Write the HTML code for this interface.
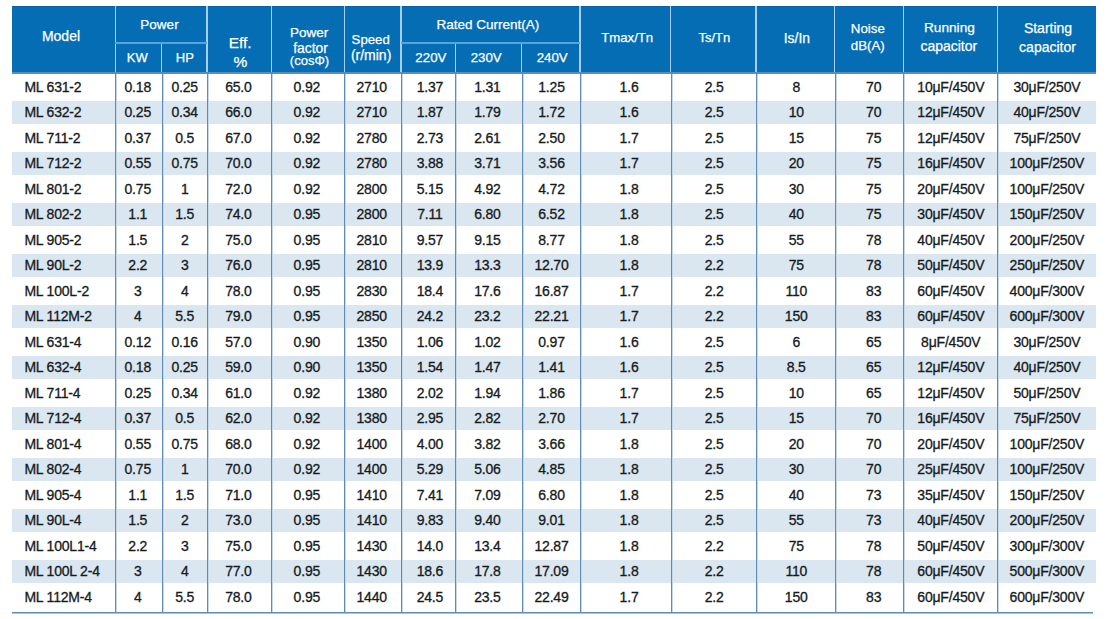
<!DOCTYPE html>
<html><head><meta charset="utf-8"><style>
html,body{margin:0;padding:0;background:#fff;}
body{width:1108px;height:619px;position:relative;overflow:hidden;font-family:"Liberation Sans",sans-serif;}
body>div{position:absolute;}
.h{color:#fff;line-height:20px;white-space:nowrap;-webkit-text-stroke:0.25px #fff;}
.d{color:#151a20;line-height:20px;white-space:nowrap;-webkit-text-stroke:0.3px #151a20;letter-spacing:-0.2px;}
</style></head><body>
<div style="left:12px;top:6px;width:1084px;height:66px;background:#046db4"></div>
<div style="left:12px;top:6px;width:1084px;height:1px;background:#0a60a3"></div>
<div style="left:12px;top:101.29px;width:1084px;height:22.6px;background:#dae6f0"></div>
<div style="left:12px;top:152.27px;width:1084px;height:22.6px;background:#dae6f0"></div>
<div style="left:12px;top:203.25px;width:1084px;height:22.6px;background:#dae6f0"></div>
<div style="left:12px;top:254.23px;width:1084px;height:22.6px;background:#dae6f0"></div>
<div style="left:12px;top:305.21px;width:1084px;height:22.6px;background:#dae6f0"></div>
<div style="left:12px;top:356.19px;width:1084px;height:22.6px;background:#dae6f0"></div>
<div style="left:12px;top:407.17px;width:1084px;height:22.6px;background:#dae6f0"></div>
<div style="left:12px;top:458.15px;width:1084px;height:22.6px;background:#dae6f0"></div>
<div style="left:12px;top:509.13px;width:1084px;height:22.6px;background:#dae6f0"></div>
<div style="left:12px;top:560.11px;width:1084px;height:22.6px;background:#dae6f0"></div>
<div style="left:114.55px;top:6px;width:1.5px;height:66px;background:#a6d0f2"></div>
<div style="left:115px;top:74px;width:1px;height:538.5px;background:#5f8cb6"></div>
<div style="left:116px;top:74px;width:1px;height:538.5px;background:#c5d8e8"></div>
<div style="left:160.75px;top:43.1px;width:1.5px;height:28.9px;background:#a6d0f2"></div>
<div style="left:162px;top:74px;width:1px;height:538.5px;background:#5f8cb6"></div>
<div style="left:163px;top:74px;width:1px;height:538.5px;background:#c5d8e8"></div>
<div style="left:206.15px;top:6px;width:1.5px;height:66px;background:#a6d0f2"></div>
<div style="left:207px;top:74px;width:1px;height:538.5px;background:#5f8cb6"></div>
<div style="left:208px;top:74px;width:1px;height:538.5px;background:#c5d8e8"></div>
<div style="left:270.55px;top:6px;width:1.5px;height:66px;background:#a6d0f2"></div>
<div style="left:271px;top:74px;width:1px;height:538.5px;background:#5f8cb6"></div>
<div style="left:272px;top:74px;width:1px;height:538.5px;background:#c5d8e8"></div>
<div style="left:343.85px;top:6px;width:1.5px;height:66px;background:#a6d0f2"></div>
<div style="left:344px;top:74px;width:1px;height:538.5px;background:#5f8cb6"></div>
<div style="left:345px;top:74px;width:1px;height:538.5px;background:#c5d8e8"></div>
<div style="left:400.25px;top:6px;width:1.5px;height:66px;background:#a6d0f2"></div>
<div style="left:401px;top:74px;width:1px;height:538.5px;background:#5f8cb6"></div>
<div style="left:402px;top:74px;width:1px;height:538.5px;background:#c5d8e8"></div>
<div style="left:454.85px;top:43.1px;width:1.5px;height:28.9px;background:#a6d0f2"></div>
<div style="left:455px;top:74px;width:1px;height:538.5px;background:#5f8cb6"></div>
<div style="left:456px;top:74px;width:1px;height:538.5px;background:#c5d8e8"></div>
<div style="left:520.95px;top:43.1px;width:1.5px;height:28.9px;background:#a6d0f2"></div>
<div style="left:522px;top:74px;width:1px;height:538.5px;background:#5f8cb6"></div>
<div style="left:523px;top:74px;width:1px;height:538.5px;background:#c5d8e8"></div>
<div style="left:579.25px;top:6px;width:1.5px;height:66px;background:#a6d0f2"></div>
<div style="left:580px;top:74px;width:1px;height:538.5px;background:#5f8cb6"></div>
<div style="left:581px;top:74px;width:1px;height:538.5px;background:#c5d8e8"></div>
<div style="left:669.95px;top:6px;width:1.5px;height:66px;background:#a6d0f2"></div>
<div style="left:671px;top:74px;width:1px;height:538.5px;background:#5f8cb6"></div>
<div style="left:672px;top:74px;width:1px;height:538.5px;background:#c5d8e8"></div>
<div style="left:755.45px;top:6px;width:1.5px;height:66px;background:#a6d0f2"></div>
<div style="left:756px;top:74px;width:1px;height:538.5px;background:#5f8cb6"></div>
<div style="left:757px;top:74px;width:1px;height:538.5px;background:#c5d8e8"></div>
<div style="left:833.65px;top:6px;width:1.5px;height:66px;background:#a6d0f2"></div>
<div style="left:835px;top:74px;width:1px;height:538.5px;background:#5f8cb6"></div>
<div style="left:836px;top:74px;width:1px;height:538.5px;background:#c5d8e8"></div>
<div style="left:902.75px;top:6px;width:1.5px;height:66px;background:#a6d0f2"></div>
<div style="left:903px;top:74px;width:1px;height:538.5px;background:#5f8cb6"></div>
<div style="left:904px;top:74px;width:1px;height:538.5px;background:#c5d8e8"></div>
<div style="left:996.55px;top:6px;width:1.5px;height:66px;background:#a6d0f2"></div>
<div style="left:997px;top:74px;width:1px;height:538.5px;background:#5f8cb6"></div>
<div style="left:998px;top:74px;width:1px;height:538.5px;background:#c5d8e8"></div>
<div style="left:115.3px;top:42.1px;width:91.60000000000001px;height:2px;background:#5aa3de"></div>
<div style="left:401px;top:42.1px;width:179px;height:2px;background:#5aa3de"></div>
<div style="left:12px;top:72px;width:1084px;height:2.4px;background:#5a8dba"></div>
<div style="left:12px;top:611.5px;width:1081px;height:1px;background:#5f8cb6"></div>
<div style="left:12px;top:612.5px;width:1081px;height:1px;background:#a9c3da"></div>
<div class="h" style="left:-39.00px;width:200px;text-align:center;top:26.45px;font-size:14px">Model</div>
<div class="h" style="left:59.50px;width:200px;text-align:center;top:15.42px;font-size:13.5px">Power</div>
<div class="h" style="left:37.30px;width:200px;text-align:center;top:48.30px;font-size:13px">KW</div>
<div class="h" style="left:84.80px;width:200px;text-align:center;top:48.30px;font-size:13px">HP</div>
<div class="h" style="left:140.20px;width:200px;text-align:center;top:32.83px;font-size:15.5px">Eff.</div>
<div class="h" style="left:140.40px;width:200px;text-align:center;top:51.83px;font-size:15.5px">%</div>
<div class="h" style="left:209.20px;width:200px;text-align:center;top:23.42px;font-size:13.5px">Power</div>
<div class="h" style="left:210.50px;width:200px;text-align:center;top:37.58px;font-size:13.9px">factor</div>
<div class="h" style="left:209.50px;width:200px;text-align:center;top:51.30px;font-size:13px">(cosΦ)</div>
<div class="h" style="left:270.70px;width:200px;text-align:center;top:29.63px;font-size:13.2px">Speed</div>
<div class="h" style="left:271.10px;width:200px;text-align:center;top:44.75px;font-size:14px">(r/min)</div>
<div class="h" style="left:387.90px;width:200px;text-align:center;top:14.82px;font-size:13.5px">Rated Current(A)</div>
<div class="h" style="left:330.90px;width:200px;text-align:center;top:47.99px;font-size:13.3px">220V</div>
<div class="h" style="left:386.20px;width:200px;text-align:center;top:47.99px;font-size:13.3px">230V</div>
<div class="h" style="left:452.20px;width:200px;text-align:center;top:47.99px;font-size:13.3px">240V</div>
<div class="h" style="left:527.20px;width:200px;text-align:center;top:27.83px;font-size:13.2px">Tmax/Tn</div>
<div class="h" style="left:614.40px;width:200px;text-align:center;top:27.90px;font-size:13px">Ts/Tn</div>
<div class="h" style="left:696.90px;width:200px;text-align:center;top:27.58px;font-size:13.9px">Is/In</div>
<div class="h" style="left:767.80px;width:200px;text-align:center;top:18.69px;font-size:13.3px">Noise</div>
<div class="h" style="left:767.80px;width:200px;text-align:center;top:36.49px;font-size:13.3px">dB(A)</div>
<div class="h" style="left:849.40px;width:200px;text-align:center;top:17.55px;font-size:13.7px">Running</div>
<div class="h" style="left:848.80px;width:200px;text-align:center;top:35.75px;font-size:14px">capacitor</div>
<div class="h" style="left:948.00px;width:200px;text-align:center;top:18.45px;font-size:14px">Starting</div>
<div class="h" style="left:947.50px;width:200px;text-align:center;top:36.75px;font-size:14px">capacitor</div>
<div class="d" style="left:24.40px;top:76.95px;font-size:14px">ML 631-2</div>
<div class="d" style="left:37.75px;width:200px;text-align:center;top:76.95px;font-size:14px">0.18</div>
<div class="d" style="left:84.70px;width:200px;text-align:center;top:76.95px;font-size:14px">0.25</div>
<div class="d" style="left:138.40px;width:200px;text-align:center;top:76.95px;font-size:14px">65.0</div>
<div class="d" style="left:206.85px;width:200px;text-align:center;top:76.95px;font-size:14px">0.92</div>
<div class="d" style="left:271.70px;width:200px;text-align:center;top:76.95px;font-size:14px">2710</div>
<div class="d" style="left:329.90px;width:200px;text-align:center;top:76.95px;font-size:14px">1.37</div>
<div class="d" style="left:387.40px;width:200px;text-align:center;top:76.95px;font-size:14px">1.31</div>
<div class="d" style="left:451.50px;width:200px;text-align:center;top:76.95px;font-size:14px">1.25</div>
<div class="d" style="left:529.05px;width:200px;text-align:center;top:76.95px;font-size:14px">1.6</div>
<div class="d" style="left:614.15px;width:200px;text-align:center;top:76.95px;font-size:14px">2.5</div>
<div class="d" style="left:696.25px;width:200px;text-align:center;top:76.95px;font-size:14px">8</div>
<div class="d" style="left:773.65px;width:200px;text-align:center;top:76.95px;font-size:14px">70</div>
<div class="d" style="left:850.80px;width:200px;text-align:center;top:76.95px;font-size:14px">10μF/450V</div>
<div class="d" style="left:946.90px;width:200px;text-align:center;top:76.95px;font-size:14px">30μF/250V</div>
<div class="d" style="left:24.40px;top:102.44px;font-size:14px">ML 632-2</div>
<div class="d" style="left:37.75px;width:200px;text-align:center;top:102.44px;font-size:14px">0.25</div>
<div class="d" style="left:84.70px;width:200px;text-align:center;top:102.44px;font-size:14px">0.34</div>
<div class="d" style="left:138.40px;width:200px;text-align:center;top:102.44px;font-size:14px">66.0</div>
<div class="d" style="left:206.85px;width:200px;text-align:center;top:102.44px;font-size:14px">0.92</div>
<div class="d" style="left:271.70px;width:200px;text-align:center;top:102.44px;font-size:14px">2710</div>
<div class="d" style="left:329.90px;width:200px;text-align:center;top:102.44px;font-size:14px">1.87</div>
<div class="d" style="left:387.40px;width:200px;text-align:center;top:102.44px;font-size:14px">1.79</div>
<div class="d" style="left:451.50px;width:200px;text-align:center;top:102.44px;font-size:14px">1.72</div>
<div class="d" style="left:529.05px;width:200px;text-align:center;top:102.44px;font-size:14px">1.6</div>
<div class="d" style="left:614.15px;width:200px;text-align:center;top:102.44px;font-size:14px">2.5</div>
<div class="d" style="left:696.25px;width:200px;text-align:center;top:102.44px;font-size:14px">10</div>
<div class="d" style="left:773.65px;width:200px;text-align:center;top:102.44px;font-size:14px">70</div>
<div class="d" style="left:850.80px;width:200px;text-align:center;top:102.44px;font-size:14px">12μF/450V</div>
<div class="d" style="left:946.90px;width:200px;text-align:center;top:102.44px;font-size:14px">40μF/250V</div>
<div class="d" style="left:24.40px;top:127.93px;font-size:14px">ML 711-2</div>
<div class="d" style="left:37.75px;width:200px;text-align:center;top:127.93px;font-size:14px">0.37</div>
<div class="d" style="left:84.70px;width:200px;text-align:center;top:127.93px;font-size:14px">0.5</div>
<div class="d" style="left:138.40px;width:200px;text-align:center;top:127.93px;font-size:14px">67.0</div>
<div class="d" style="left:206.85px;width:200px;text-align:center;top:127.93px;font-size:14px">0.92</div>
<div class="d" style="left:271.70px;width:200px;text-align:center;top:127.93px;font-size:14px">2780</div>
<div class="d" style="left:329.90px;width:200px;text-align:center;top:127.93px;font-size:14px">2.73</div>
<div class="d" style="left:387.40px;width:200px;text-align:center;top:127.93px;font-size:14px">2.61</div>
<div class="d" style="left:451.50px;width:200px;text-align:center;top:127.93px;font-size:14px">2.50</div>
<div class="d" style="left:529.05px;width:200px;text-align:center;top:127.93px;font-size:14px">1.7</div>
<div class="d" style="left:614.15px;width:200px;text-align:center;top:127.93px;font-size:14px">2.5</div>
<div class="d" style="left:696.25px;width:200px;text-align:center;top:127.93px;font-size:14px">15</div>
<div class="d" style="left:773.65px;width:200px;text-align:center;top:127.93px;font-size:14px">75</div>
<div class="d" style="left:850.80px;width:200px;text-align:center;top:127.93px;font-size:14px">12μF/450V</div>
<div class="d" style="left:946.90px;width:200px;text-align:center;top:127.93px;font-size:14px">75μF/250V</div>
<div class="d" style="left:24.40px;top:153.42px;font-size:14px">ML 712-2</div>
<div class="d" style="left:37.75px;width:200px;text-align:center;top:153.42px;font-size:14px">0.55</div>
<div class="d" style="left:84.70px;width:200px;text-align:center;top:153.42px;font-size:14px">0.75</div>
<div class="d" style="left:138.40px;width:200px;text-align:center;top:153.42px;font-size:14px">70.0</div>
<div class="d" style="left:206.85px;width:200px;text-align:center;top:153.42px;font-size:14px">0.92</div>
<div class="d" style="left:271.70px;width:200px;text-align:center;top:153.42px;font-size:14px">2780</div>
<div class="d" style="left:329.90px;width:200px;text-align:center;top:153.42px;font-size:14px">3.88</div>
<div class="d" style="left:387.40px;width:200px;text-align:center;top:153.42px;font-size:14px">3.71</div>
<div class="d" style="left:451.50px;width:200px;text-align:center;top:153.42px;font-size:14px">3.56</div>
<div class="d" style="left:529.05px;width:200px;text-align:center;top:153.42px;font-size:14px">1.7</div>
<div class="d" style="left:614.15px;width:200px;text-align:center;top:153.42px;font-size:14px">2.5</div>
<div class="d" style="left:696.25px;width:200px;text-align:center;top:153.42px;font-size:14px">20</div>
<div class="d" style="left:773.65px;width:200px;text-align:center;top:153.42px;font-size:14px">75</div>
<div class="d" style="left:850.80px;width:200px;text-align:center;top:153.42px;font-size:14px">16μF/450V</div>
<div class="d" style="left:946.90px;width:200px;text-align:center;top:153.42px;font-size:14px">100μF/250V</div>
<div class="d" style="left:24.40px;top:178.91px;font-size:14px">ML 801-2</div>
<div class="d" style="left:37.75px;width:200px;text-align:center;top:178.91px;font-size:14px">0.75</div>
<div class="d" style="left:84.70px;width:200px;text-align:center;top:178.91px;font-size:14px">1</div>
<div class="d" style="left:138.40px;width:200px;text-align:center;top:178.91px;font-size:14px">72.0</div>
<div class="d" style="left:206.85px;width:200px;text-align:center;top:178.91px;font-size:14px">0.92</div>
<div class="d" style="left:271.70px;width:200px;text-align:center;top:178.91px;font-size:14px">2800</div>
<div class="d" style="left:329.90px;width:200px;text-align:center;top:178.91px;font-size:14px">5.15</div>
<div class="d" style="left:387.40px;width:200px;text-align:center;top:178.91px;font-size:14px">4.92</div>
<div class="d" style="left:451.50px;width:200px;text-align:center;top:178.91px;font-size:14px">4.72</div>
<div class="d" style="left:529.05px;width:200px;text-align:center;top:178.91px;font-size:14px">1.8</div>
<div class="d" style="left:614.15px;width:200px;text-align:center;top:178.91px;font-size:14px">2.5</div>
<div class="d" style="left:696.25px;width:200px;text-align:center;top:178.91px;font-size:14px">30</div>
<div class="d" style="left:773.65px;width:200px;text-align:center;top:178.91px;font-size:14px">75</div>
<div class="d" style="left:850.80px;width:200px;text-align:center;top:178.91px;font-size:14px">20μF/450V</div>
<div class="d" style="left:946.90px;width:200px;text-align:center;top:178.91px;font-size:14px">100μF/250V</div>
<div class="d" style="left:24.40px;top:204.40px;font-size:14px">ML 802-2</div>
<div class="d" style="left:37.75px;width:200px;text-align:center;top:204.40px;font-size:14px">1.1</div>
<div class="d" style="left:84.70px;width:200px;text-align:center;top:204.40px;font-size:14px">1.5</div>
<div class="d" style="left:138.40px;width:200px;text-align:center;top:204.40px;font-size:14px">74.0</div>
<div class="d" style="left:206.85px;width:200px;text-align:center;top:204.40px;font-size:14px">0.95</div>
<div class="d" style="left:271.70px;width:200px;text-align:center;top:204.40px;font-size:14px">2800</div>
<div class="d" style="left:329.90px;width:200px;text-align:center;top:204.40px;font-size:14px">7.11</div>
<div class="d" style="left:387.40px;width:200px;text-align:center;top:204.40px;font-size:14px">6.80</div>
<div class="d" style="left:451.50px;width:200px;text-align:center;top:204.40px;font-size:14px">6.52</div>
<div class="d" style="left:529.05px;width:200px;text-align:center;top:204.40px;font-size:14px">1.8</div>
<div class="d" style="left:614.15px;width:200px;text-align:center;top:204.40px;font-size:14px">2.5</div>
<div class="d" style="left:696.25px;width:200px;text-align:center;top:204.40px;font-size:14px">40</div>
<div class="d" style="left:773.65px;width:200px;text-align:center;top:204.40px;font-size:14px">75</div>
<div class="d" style="left:850.80px;width:200px;text-align:center;top:204.40px;font-size:14px">30μF/450V</div>
<div class="d" style="left:946.90px;width:200px;text-align:center;top:204.40px;font-size:14px">150μF/250V</div>
<div class="d" style="left:24.40px;top:229.89px;font-size:14px">ML 905-2</div>
<div class="d" style="left:37.75px;width:200px;text-align:center;top:229.89px;font-size:14px">1.5</div>
<div class="d" style="left:84.70px;width:200px;text-align:center;top:229.89px;font-size:14px">2</div>
<div class="d" style="left:138.40px;width:200px;text-align:center;top:229.89px;font-size:14px">75.0</div>
<div class="d" style="left:206.85px;width:200px;text-align:center;top:229.89px;font-size:14px">0.95</div>
<div class="d" style="left:271.70px;width:200px;text-align:center;top:229.89px;font-size:14px">2810</div>
<div class="d" style="left:329.90px;width:200px;text-align:center;top:229.89px;font-size:14px">9.57</div>
<div class="d" style="left:387.40px;width:200px;text-align:center;top:229.89px;font-size:14px">9.15</div>
<div class="d" style="left:451.50px;width:200px;text-align:center;top:229.89px;font-size:14px">8.77</div>
<div class="d" style="left:529.05px;width:200px;text-align:center;top:229.89px;font-size:14px">1.8</div>
<div class="d" style="left:614.15px;width:200px;text-align:center;top:229.89px;font-size:14px">2.5</div>
<div class="d" style="left:696.25px;width:200px;text-align:center;top:229.89px;font-size:14px">55</div>
<div class="d" style="left:773.65px;width:200px;text-align:center;top:229.89px;font-size:14px">78</div>
<div class="d" style="left:850.80px;width:200px;text-align:center;top:229.89px;font-size:14px">40μF/450V</div>
<div class="d" style="left:946.90px;width:200px;text-align:center;top:229.89px;font-size:14px">200μF/250V</div>
<div class="d" style="left:24.40px;top:255.38px;font-size:14px">ML 90L-2</div>
<div class="d" style="left:37.75px;width:200px;text-align:center;top:255.38px;font-size:14px">2.2</div>
<div class="d" style="left:84.70px;width:200px;text-align:center;top:255.38px;font-size:14px">3</div>
<div class="d" style="left:138.40px;width:200px;text-align:center;top:255.38px;font-size:14px">76.0</div>
<div class="d" style="left:206.85px;width:200px;text-align:center;top:255.38px;font-size:14px">0.95</div>
<div class="d" style="left:271.70px;width:200px;text-align:center;top:255.38px;font-size:14px">2810</div>
<div class="d" style="left:329.90px;width:200px;text-align:center;top:255.38px;font-size:14px">13.9</div>
<div class="d" style="left:387.40px;width:200px;text-align:center;top:255.38px;font-size:14px">13.3</div>
<div class="d" style="left:451.50px;width:200px;text-align:center;top:255.38px;font-size:14px">12.70</div>
<div class="d" style="left:529.05px;width:200px;text-align:center;top:255.38px;font-size:14px">1.8</div>
<div class="d" style="left:614.15px;width:200px;text-align:center;top:255.38px;font-size:14px">2.2</div>
<div class="d" style="left:696.25px;width:200px;text-align:center;top:255.38px;font-size:14px">75</div>
<div class="d" style="left:773.65px;width:200px;text-align:center;top:255.38px;font-size:14px">78</div>
<div class="d" style="left:850.80px;width:200px;text-align:center;top:255.38px;font-size:14px">50μF/450V</div>
<div class="d" style="left:946.90px;width:200px;text-align:center;top:255.38px;font-size:14px">250μF/250V</div>
<div class="d" style="left:24.40px;top:280.87px;font-size:14px">ML 100L-2</div>
<div class="d" style="left:37.75px;width:200px;text-align:center;top:280.87px;font-size:14px">3</div>
<div class="d" style="left:84.70px;width:200px;text-align:center;top:280.87px;font-size:14px">4</div>
<div class="d" style="left:138.40px;width:200px;text-align:center;top:280.87px;font-size:14px">78.0</div>
<div class="d" style="left:206.85px;width:200px;text-align:center;top:280.87px;font-size:14px">0.95</div>
<div class="d" style="left:271.70px;width:200px;text-align:center;top:280.87px;font-size:14px">2830</div>
<div class="d" style="left:329.90px;width:200px;text-align:center;top:280.87px;font-size:14px">18.4</div>
<div class="d" style="left:387.40px;width:200px;text-align:center;top:280.87px;font-size:14px">17.6</div>
<div class="d" style="left:451.50px;width:200px;text-align:center;top:280.87px;font-size:14px">16.87</div>
<div class="d" style="left:529.05px;width:200px;text-align:center;top:280.87px;font-size:14px">1.7</div>
<div class="d" style="left:614.15px;width:200px;text-align:center;top:280.87px;font-size:14px">2.2</div>
<div class="d" style="left:696.25px;width:200px;text-align:center;top:280.87px;font-size:14px">110</div>
<div class="d" style="left:773.65px;width:200px;text-align:center;top:280.87px;font-size:14px">83</div>
<div class="d" style="left:850.80px;width:200px;text-align:center;top:280.87px;font-size:14px">60μF/450V</div>
<div class="d" style="left:946.90px;width:200px;text-align:center;top:280.87px;font-size:14px">400μF/300V</div>
<div class="d" style="left:24.40px;top:306.36px;font-size:14px">ML 112M-2</div>
<div class="d" style="left:37.75px;width:200px;text-align:center;top:306.36px;font-size:14px">4</div>
<div class="d" style="left:84.70px;width:200px;text-align:center;top:306.36px;font-size:14px">5.5</div>
<div class="d" style="left:138.40px;width:200px;text-align:center;top:306.36px;font-size:14px">79.0</div>
<div class="d" style="left:206.85px;width:200px;text-align:center;top:306.36px;font-size:14px">0.95</div>
<div class="d" style="left:271.70px;width:200px;text-align:center;top:306.36px;font-size:14px">2850</div>
<div class="d" style="left:329.90px;width:200px;text-align:center;top:306.36px;font-size:14px">24.2</div>
<div class="d" style="left:387.40px;width:200px;text-align:center;top:306.36px;font-size:14px">23.2</div>
<div class="d" style="left:451.50px;width:200px;text-align:center;top:306.36px;font-size:14px">22.21</div>
<div class="d" style="left:529.05px;width:200px;text-align:center;top:306.36px;font-size:14px">1.7</div>
<div class="d" style="left:614.15px;width:200px;text-align:center;top:306.36px;font-size:14px">2.2</div>
<div class="d" style="left:696.25px;width:200px;text-align:center;top:306.36px;font-size:14px">150</div>
<div class="d" style="left:773.65px;width:200px;text-align:center;top:306.36px;font-size:14px">83</div>
<div class="d" style="left:850.80px;width:200px;text-align:center;top:306.36px;font-size:14px">60μF/450V</div>
<div class="d" style="left:946.90px;width:200px;text-align:center;top:306.36px;font-size:14px">600μF/300V</div>
<div class="d" style="left:24.40px;top:331.85px;font-size:14px">ML 631-4</div>
<div class="d" style="left:37.75px;width:200px;text-align:center;top:331.85px;font-size:14px">0.12</div>
<div class="d" style="left:84.70px;width:200px;text-align:center;top:331.85px;font-size:14px">0.16</div>
<div class="d" style="left:138.40px;width:200px;text-align:center;top:331.85px;font-size:14px">57.0</div>
<div class="d" style="left:206.85px;width:200px;text-align:center;top:331.85px;font-size:14px">0.90</div>
<div class="d" style="left:271.70px;width:200px;text-align:center;top:331.85px;font-size:14px">1350</div>
<div class="d" style="left:329.90px;width:200px;text-align:center;top:331.85px;font-size:14px">1.06</div>
<div class="d" style="left:387.40px;width:200px;text-align:center;top:331.85px;font-size:14px">1.02</div>
<div class="d" style="left:451.50px;width:200px;text-align:center;top:331.85px;font-size:14px">0.97</div>
<div class="d" style="left:529.05px;width:200px;text-align:center;top:331.85px;font-size:14px">1.6</div>
<div class="d" style="left:614.15px;width:200px;text-align:center;top:331.85px;font-size:14px">2.5</div>
<div class="d" style="left:696.25px;width:200px;text-align:center;top:331.85px;font-size:14px">6</div>
<div class="d" style="left:773.65px;width:200px;text-align:center;top:331.85px;font-size:14px">65</div>
<div class="d" style="left:850.80px;width:200px;text-align:center;top:331.85px;font-size:14px">8μF/450V</div>
<div class="d" style="left:946.90px;width:200px;text-align:center;top:331.85px;font-size:14px">30μF/250V</div>
<div class="d" style="left:24.40px;top:357.34px;font-size:14px">ML 632-4</div>
<div class="d" style="left:37.75px;width:200px;text-align:center;top:357.34px;font-size:14px">0.18</div>
<div class="d" style="left:84.70px;width:200px;text-align:center;top:357.34px;font-size:14px">0.25</div>
<div class="d" style="left:138.40px;width:200px;text-align:center;top:357.34px;font-size:14px">59.0</div>
<div class="d" style="left:206.85px;width:200px;text-align:center;top:357.34px;font-size:14px">0.90</div>
<div class="d" style="left:271.70px;width:200px;text-align:center;top:357.34px;font-size:14px">1350</div>
<div class="d" style="left:329.90px;width:200px;text-align:center;top:357.34px;font-size:14px">1.54</div>
<div class="d" style="left:387.40px;width:200px;text-align:center;top:357.34px;font-size:14px">1.47</div>
<div class="d" style="left:451.50px;width:200px;text-align:center;top:357.34px;font-size:14px">1.41</div>
<div class="d" style="left:529.05px;width:200px;text-align:center;top:357.34px;font-size:14px">1.6</div>
<div class="d" style="left:614.15px;width:200px;text-align:center;top:357.34px;font-size:14px">2.5</div>
<div class="d" style="left:696.25px;width:200px;text-align:center;top:357.34px;font-size:14px">8.5</div>
<div class="d" style="left:773.65px;width:200px;text-align:center;top:357.34px;font-size:14px">65</div>
<div class="d" style="left:850.80px;width:200px;text-align:center;top:357.34px;font-size:14px">12μF/450V</div>
<div class="d" style="left:946.90px;width:200px;text-align:center;top:357.34px;font-size:14px">40μF/250V</div>
<div class="d" style="left:24.40px;top:382.83px;font-size:14px">ML 711-4</div>
<div class="d" style="left:37.75px;width:200px;text-align:center;top:382.83px;font-size:14px">0.25</div>
<div class="d" style="left:84.70px;width:200px;text-align:center;top:382.83px;font-size:14px">0.34</div>
<div class="d" style="left:138.40px;width:200px;text-align:center;top:382.83px;font-size:14px">61.0</div>
<div class="d" style="left:206.85px;width:200px;text-align:center;top:382.83px;font-size:14px">0.92</div>
<div class="d" style="left:271.70px;width:200px;text-align:center;top:382.83px;font-size:14px">1380</div>
<div class="d" style="left:329.90px;width:200px;text-align:center;top:382.83px;font-size:14px">2.02</div>
<div class="d" style="left:387.40px;width:200px;text-align:center;top:382.83px;font-size:14px">1.94</div>
<div class="d" style="left:451.50px;width:200px;text-align:center;top:382.83px;font-size:14px">1.86</div>
<div class="d" style="left:529.05px;width:200px;text-align:center;top:382.83px;font-size:14px">1.7</div>
<div class="d" style="left:614.15px;width:200px;text-align:center;top:382.83px;font-size:14px">2.5</div>
<div class="d" style="left:696.25px;width:200px;text-align:center;top:382.83px;font-size:14px">10</div>
<div class="d" style="left:773.65px;width:200px;text-align:center;top:382.83px;font-size:14px">65</div>
<div class="d" style="left:850.80px;width:200px;text-align:center;top:382.83px;font-size:14px">12μF/450V</div>
<div class="d" style="left:946.90px;width:200px;text-align:center;top:382.83px;font-size:14px">50μF/250V</div>
<div class="d" style="left:24.40px;top:408.32px;font-size:14px">ML 712-4</div>
<div class="d" style="left:37.75px;width:200px;text-align:center;top:408.32px;font-size:14px">0.37</div>
<div class="d" style="left:84.70px;width:200px;text-align:center;top:408.32px;font-size:14px">0.5</div>
<div class="d" style="left:138.40px;width:200px;text-align:center;top:408.32px;font-size:14px">62.0</div>
<div class="d" style="left:206.85px;width:200px;text-align:center;top:408.32px;font-size:14px">0.92</div>
<div class="d" style="left:271.70px;width:200px;text-align:center;top:408.32px;font-size:14px">1380</div>
<div class="d" style="left:329.90px;width:200px;text-align:center;top:408.32px;font-size:14px">2.95</div>
<div class="d" style="left:387.40px;width:200px;text-align:center;top:408.32px;font-size:14px">2.82</div>
<div class="d" style="left:451.50px;width:200px;text-align:center;top:408.32px;font-size:14px">2.70</div>
<div class="d" style="left:529.05px;width:200px;text-align:center;top:408.32px;font-size:14px">1.7</div>
<div class="d" style="left:614.15px;width:200px;text-align:center;top:408.32px;font-size:14px">2.5</div>
<div class="d" style="left:696.25px;width:200px;text-align:center;top:408.32px;font-size:14px">15</div>
<div class="d" style="left:773.65px;width:200px;text-align:center;top:408.32px;font-size:14px">70</div>
<div class="d" style="left:850.80px;width:200px;text-align:center;top:408.32px;font-size:14px">16μF/450V</div>
<div class="d" style="left:946.90px;width:200px;text-align:center;top:408.32px;font-size:14px">75μF/250V</div>
<div class="d" style="left:24.40px;top:433.81px;font-size:14px">ML 801-4</div>
<div class="d" style="left:37.75px;width:200px;text-align:center;top:433.81px;font-size:14px">0.55</div>
<div class="d" style="left:84.70px;width:200px;text-align:center;top:433.81px;font-size:14px">0.75</div>
<div class="d" style="left:138.40px;width:200px;text-align:center;top:433.81px;font-size:14px">68.0</div>
<div class="d" style="left:206.85px;width:200px;text-align:center;top:433.81px;font-size:14px">0.92</div>
<div class="d" style="left:271.70px;width:200px;text-align:center;top:433.81px;font-size:14px">1400</div>
<div class="d" style="left:329.90px;width:200px;text-align:center;top:433.81px;font-size:14px">4.00</div>
<div class="d" style="left:387.40px;width:200px;text-align:center;top:433.81px;font-size:14px">3.82</div>
<div class="d" style="left:451.50px;width:200px;text-align:center;top:433.81px;font-size:14px">3.66</div>
<div class="d" style="left:529.05px;width:200px;text-align:center;top:433.81px;font-size:14px">1.8</div>
<div class="d" style="left:614.15px;width:200px;text-align:center;top:433.81px;font-size:14px">2.5</div>
<div class="d" style="left:696.25px;width:200px;text-align:center;top:433.81px;font-size:14px">20</div>
<div class="d" style="left:773.65px;width:200px;text-align:center;top:433.81px;font-size:14px">70</div>
<div class="d" style="left:850.80px;width:200px;text-align:center;top:433.81px;font-size:14px">20μF/450V</div>
<div class="d" style="left:946.90px;width:200px;text-align:center;top:433.81px;font-size:14px">100μF/250V</div>
<div class="d" style="left:24.40px;top:459.30px;font-size:14px">ML 802-4</div>
<div class="d" style="left:37.75px;width:200px;text-align:center;top:459.30px;font-size:14px">0.75</div>
<div class="d" style="left:84.70px;width:200px;text-align:center;top:459.30px;font-size:14px">1</div>
<div class="d" style="left:138.40px;width:200px;text-align:center;top:459.30px;font-size:14px">70.0</div>
<div class="d" style="left:206.85px;width:200px;text-align:center;top:459.30px;font-size:14px">0.92</div>
<div class="d" style="left:271.70px;width:200px;text-align:center;top:459.30px;font-size:14px">1400</div>
<div class="d" style="left:329.90px;width:200px;text-align:center;top:459.30px;font-size:14px">5.29</div>
<div class="d" style="left:387.40px;width:200px;text-align:center;top:459.30px;font-size:14px">5.06</div>
<div class="d" style="left:451.50px;width:200px;text-align:center;top:459.30px;font-size:14px">4.85</div>
<div class="d" style="left:529.05px;width:200px;text-align:center;top:459.30px;font-size:14px">1.8</div>
<div class="d" style="left:614.15px;width:200px;text-align:center;top:459.30px;font-size:14px">2.5</div>
<div class="d" style="left:696.25px;width:200px;text-align:center;top:459.30px;font-size:14px">30</div>
<div class="d" style="left:773.65px;width:200px;text-align:center;top:459.30px;font-size:14px">70</div>
<div class="d" style="left:850.80px;width:200px;text-align:center;top:459.30px;font-size:14px">25μF/450V</div>
<div class="d" style="left:946.90px;width:200px;text-align:center;top:459.30px;font-size:14px">100μF/250V</div>
<div class="d" style="left:24.40px;top:484.79px;font-size:14px">ML 905-4</div>
<div class="d" style="left:37.75px;width:200px;text-align:center;top:484.79px;font-size:14px">1.1</div>
<div class="d" style="left:84.70px;width:200px;text-align:center;top:484.79px;font-size:14px">1.5</div>
<div class="d" style="left:138.40px;width:200px;text-align:center;top:484.79px;font-size:14px">71.0</div>
<div class="d" style="left:206.85px;width:200px;text-align:center;top:484.79px;font-size:14px">0.95</div>
<div class="d" style="left:271.70px;width:200px;text-align:center;top:484.79px;font-size:14px">1410</div>
<div class="d" style="left:329.90px;width:200px;text-align:center;top:484.79px;font-size:14px">7.41</div>
<div class="d" style="left:387.40px;width:200px;text-align:center;top:484.79px;font-size:14px">7.09</div>
<div class="d" style="left:451.50px;width:200px;text-align:center;top:484.79px;font-size:14px">6.80</div>
<div class="d" style="left:529.05px;width:200px;text-align:center;top:484.79px;font-size:14px">1.8</div>
<div class="d" style="left:614.15px;width:200px;text-align:center;top:484.79px;font-size:14px">2.5</div>
<div class="d" style="left:696.25px;width:200px;text-align:center;top:484.79px;font-size:14px">40</div>
<div class="d" style="left:773.65px;width:200px;text-align:center;top:484.79px;font-size:14px">73</div>
<div class="d" style="left:850.80px;width:200px;text-align:center;top:484.79px;font-size:14px">35μF/450V</div>
<div class="d" style="left:946.90px;width:200px;text-align:center;top:484.79px;font-size:14px">150μF/250V</div>
<div class="d" style="left:24.40px;top:510.28px;font-size:14px">ML 90L-4</div>
<div class="d" style="left:37.75px;width:200px;text-align:center;top:510.28px;font-size:14px">1.5</div>
<div class="d" style="left:84.70px;width:200px;text-align:center;top:510.28px;font-size:14px">2</div>
<div class="d" style="left:138.40px;width:200px;text-align:center;top:510.28px;font-size:14px">73.0</div>
<div class="d" style="left:206.85px;width:200px;text-align:center;top:510.28px;font-size:14px">0.95</div>
<div class="d" style="left:271.70px;width:200px;text-align:center;top:510.28px;font-size:14px">1410</div>
<div class="d" style="left:329.90px;width:200px;text-align:center;top:510.28px;font-size:14px">9.83</div>
<div class="d" style="left:387.40px;width:200px;text-align:center;top:510.28px;font-size:14px">9.40</div>
<div class="d" style="left:451.50px;width:200px;text-align:center;top:510.28px;font-size:14px">9.01</div>
<div class="d" style="left:529.05px;width:200px;text-align:center;top:510.28px;font-size:14px">1.8</div>
<div class="d" style="left:614.15px;width:200px;text-align:center;top:510.28px;font-size:14px">2.5</div>
<div class="d" style="left:696.25px;width:200px;text-align:center;top:510.28px;font-size:14px">55</div>
<div class="d" style="left:773.65px;width:200px;text-align:center;top:510.28px;font-size:14px">73</div>
<div class="d" style="left:850.80px;width:200px;text-align:center;top:510.28px;font-size:14px">40μF/450V</div>
<div class="d" style="left:946.90px;width:200px;text-align:center;top:510.28px;font-size:14px">200μF/250V</div>
<div class="d" style="left:24.40px;top:535.77px;font-size:14px">ML 100L1-4</div>
<div class="d" style="left:37.75px;width:200px;text-align:center;top:535.77px;font-size:14px">2.2</div>
<div class="d" style="left:84.70px;width:200px;text-align:center;top:535.77px;font-size:14px">3</div>
<div class="d" style="left:138.40px;width:200px;text-align:center;top:535.77px;font-size:14px">75.0</div>
<div class="d" style="left:206.85px;width:200px;text-align:center;top:535.77px;font-size:14px">0.95</div>
<div class="d" style="left:271.70px;width:200px;text-align:center;top:535.77px;font-size:14px">1430</div>
<div class="d" style="left:329.90px;width:200px;text-align:center;top:535.77px;font-size:14px">14.0</div>
<div class="d" style="left:387.40px;width:200px;text-align:center;top:535.77px;font-size:14px">13.4</div>
<div class="d" style="left:451.50px;width:200px;text-align:center;top:535.77px;font-size:14px">12.87</div>
<div class="d" style="left:529.05px;width:200px;text-align:center;top:535.77px;font-size:14px">1.8</div>
<div class="d" style="left:614.15px;width:200px;text-align:center;top:535.77px;font-size:14px">2.2</div>
<div class="d" style="left:696.25px;width:200px;text-align:center;top:535.77px;font-size:14px">75</div>
<div class="d" style="left:773.65px;width:200px;text-align:center;top:535.77px;font-size:14px">78</div>
<div class="d" style="left:850.80px;width:200px;text-align:center;top:535.77px;font-size:14px">50μF/450V</div>
<div class="d" style="left:946.90px;width:200px;text-align:center;top:535.77px;font-size:14px">300μF/300V</div>
<div class="d" style="left:24.40px;top:561.26px;font-size:14px">ML 100L 2-4</div>
<div class="d" style="left:37.75px;width:200px;text-align:center;top:561.26px;font-size:14px">3</div>
<div class="d" style="left:84.70px;width:200px;text-align:center;top:561.26px;font-size:14px">4</div>
<div class="d" style="left:138.40px;width:200px;text-align:center;top:561.26px;font-size:14px">77.0</div>
<div class="d" style="left:206.85px;width:200px;text-align:center;top:561.26px;font-size:14px">0.95</div>
<div class="d" style="left:271.70px;width:200px;text-align:center;top:561.26px;font-size:14px">1430</div>
<div class="d" style="left:329.90px;width:200px;text-align:center;top:561.26px;font-size:14px">18.6</div>
<div class="d" style="left:387.40px;width:200px;text-align:center;top:561.26px;font-size:14px">17.8</div>
<div class="d" style="left:451.50px;width:200px;text-align:center;top:561.26px;font-size:14px">17.09</div>
<div class="d" style="left:529.05px;width:200px;text-align:center;top:561.26px;font-size:14px">1.8</div>
<div class="d" style="left:614.15px;width:200px;text-align:center;top:561.26px;font-size:14px">2.2</div>
<div class="d" style="left:696.25px;width:200px;text-align:center;top:561.26px;font-size:14px">110</div>
<div class="d" style="left:773.65px;width:200px;text-align:center;top:561.26px;font-size:14px">78</div>
<div class="d" style="left:850.80px;width:200px;text-align:center;top:561.26px;font-size:14px">60μF/450V</div>
<div class="d" style="left:946.90px;width:200px;text-align:center;top:561.26px;font-size:14px">500μF/300V</div>
<div class="d" style="left:24.40px;top:586.75px;font-size:14px">ML 112M-4</div>
<div class="d" style="left:37.75px;width:200px;text-align:center;top:586.75px;font-size:14px">4</div>
<div class="d" style="left:84.70px;width:200px;text-align:center;top:586.75px;font-size:14px">5.5</div>
<div class="d" style="left:138.40px;width:200px;text-align:center;top:586.75px;font-size:14px">78.0</div>
<div class="d" style="left:206.85px;width:200px;text-align:center;top:586.75px;font-size:14px">0.95</div>
<div class="d" style="left:271.70px;width:200px;text-align:center;top:586.75px;font-size:14px">1440</div>
<div class="d" style="left:329.90px;width:200px;text-align:center;top:586.75px;font-size:14px">24.5</div>
<div class="d" style="left:387.40px;width:200px;text-align:center;top:586.75px;font-size:14px">23.5</div>
<div class="d" style="left:451.50px;width:200px;text-align:center;top:586.75px;font-size:14px">22.49</div>
<div class="d" style="left:529.05px;width:200px;text-align:center;top:586.75px;font-size:14px">1.7</div>
<div class="d" style="left:614.15px;width:200px;text-align:center;top:586.75px;font-size:14px">2.2</div>
<div class="d" style="left:696.25px;width:200px;text-align:center;top:586.75px;font-size:14px">150</div>
<div class="d" style="left:773.65px;width:200px;text-align:center;top:586.75px;font-size:14px">83</div>
<div class="d" style="left:850.80px;width:200px;text-align:center;top:586.75px;font-size:14px">60μF/450V</div>
<div class="d" style="left:946.90px;width:200px;text-align:center;top:586.75px;font-size:14px">600μF/300V</div>
</body></html>
